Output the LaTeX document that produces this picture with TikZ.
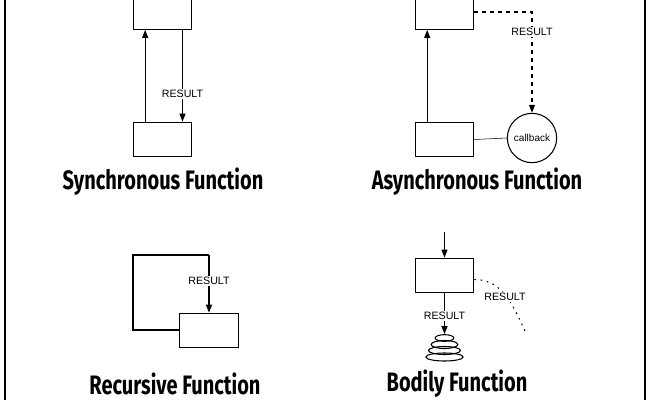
\documentclass[tikz,border=0pt]{standalone}
\usepackage{fontspec}
\setmainfont{Liberation Sans}
\newfontfamily\titlefont{Fira Sans}
\usepackage{tikz}
\usetikzlibrary{arrows.meta,shapes.geometric}

\begin{document}
\begin{tikzpicture}
	[x=0.75pt,y=-0.75pt,
	box/.style={draw,thick,minimum width=44pt,minimum height=26pt,inner sep=0pt},
	res/.style={font=\fontsize{8}{9}\selectfont,fill=white,inner sep=1pt},
	title/.style={font=\titlefont\bfseries\fontsize{20}{22}\selectfont,xscale=0.75},
	flow/.style={thick,-{Triangle[length=6pt,width=4.5pt]}},
	disc/.style={draw,thick,ellipse,inner sep=0pt}]
	\useasboundingbox (0,0) rectangle (650,400);
	\draw[line width=1.2pt] (5,0) -- (5,400);
	\draw[line width=1.2pt] (645,0) -- (645,400);
	% synchronous
	\node[box] (st) at (162.5,12) {};
	\node[box] (sb) at (162.5,139.5) {};
	\draw[flow] ([xshift=-13pt]sb.north) -- ([xshift=-13pt]st.south);
	\draw[flow] ([xshift=15pt]st.south) -- node[res,pos=0.7]{RESULT} ([xshift=15pt]sb.north);
	\node[title] (stitle) at (163,182) {Synchronous Function};
	% asynchronous
	\node[box] (at) at (444.5,12) {};
	\node[box] (ab) at (444.5,139.5) {};
	\node[draw,thick,circle,minimum size=37pt,inner sep=0pt,font=\fontsize{7.5}{8}\selectfont] (cb) at (532,138) {callback};
	\draw[flow] ([xshift=-13pt]ab.north) -- ([xshift=-13pt]at.south);
	\draw[flow,dashed] (at.east) -| node[res,pos=0.6]{RESULT} (cb.north);
	\draw (ab.east) -- (cb.west);
	\node[title] (atitle) at (477,182) {Asynchronous Function};
	% recursive
	\node[box] (rb) at (209,330.5) {};
	\coordinate (rl) at (133,330);
	\draw[thick] (rb.west |- rl) -- (rl) -- (133,255) -- (209,255);
	\draw[flow] (209,255) -- node[res,pos=0.45]{RESULT} (rb.north);
	\node[title] (rtitle) at (175,384) {Recursive Function};
	% bodily
	\node[box] (bb) at (444.5,275.5) {};
	\coordinate (bin) at (444.5,232);
	\draw[flow] (bin) -- (bb.north);
	\node[disc,minimum width=14pt,minimum height=5pt] (d1) at (444.5,338) {};
	\node[disc,minimum width=20pt,minimum height=6pt] (d2) at (444.5,344.5) {};
	\node[disc,minimum width=24pt,minimum height=6pt] (d3) at (444.5,350.5) {};
	\node[disc,minimum width=28pt,minimum height=6pt] (d4) at (444.5,357) {};
	\draw[flow] (bb.south) -- node[res,pos=0.55]{RESULT} (d1.north);
	\coordinate (bend) at (525,331);
	\draw[thick,dash pattern=on 1.2pt off 3.5pt] ([yshift=-3pt]bb.east) to[out=0,in=115] (bend);
	\node[res] (bres) at (505,297) {RESULT};
	\node[title] (btitle) at (457,384) {Bodily Function};
\end{tikzpicture}
\end{document}
